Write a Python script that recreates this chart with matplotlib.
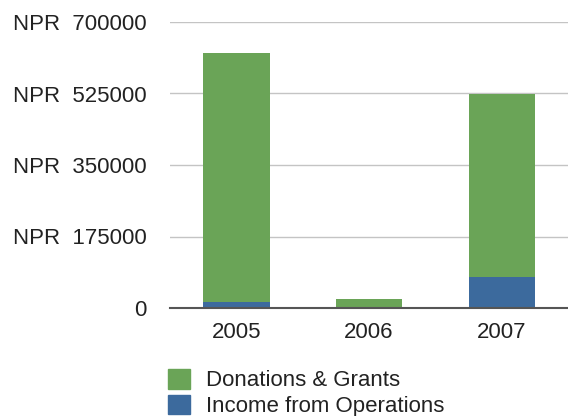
import matplotlib
matplotlib.use("Agg")
import matplotlib.pyplot as plt
import matplotlib.patches as mpatches

years = ["2005", "2006", "2007"]
income_ops = [15000, 2000, 76000]
donations = [608000, 20000, 448000]
yticks = [0, 175000, 350000, 525000, 700000]

green = "#6aa457"
blue = "#3c6a9d"
text_color = "#222222"

plt.rcParams["font.family"] = ["Liberation Sans", "DejaVu Sans"]

fig = plt.figure(figsize=(5.68, 4.16), dpi=100)
ax = fig.add_axes([170 / 568, 1 - 308 / 416, 1 - 170 / 568, (308 - 22) / 416])

x = range(len(years))
ax.bar(x, income_ops, width=0.5, color=blue, zorder=3)
ax.bar(x, donations, width=0.5, bottom=income_ops, color=green, zorder=3)

ax.set_xlim(-0.5, 2.5)
ax.set_ylim(0, 700000)
ax.set_yticks(yticks)
ax.set_yticklabels(["0"] + ["NPR  %d" % v for v in yticks[1:]])
ax.set_xticks(list(x))
ax.set_xticklabels(years)
ax.tick_params(axis="y", length=0, pad=17, labelsize=16, labelcolor=text_color)
ax.tick_params(axis="x", length=0, pad=10, labelsize=16, labelcolor=text_color)

ax.grid(axis="y", color="#c4c4c4", linewidth=1, zorder=0)
for s in ["top", "right", "left"]:
    ax.spines[s].set_visible(False)
ax.spines["bottom"].set_color("#555555")
ax.spines["bottom"].set_linewidth(1.5)
ax.spines["bottom"].set_zorder(4)

handles = [
    mpatches.Patch(color=green, label="Donations & Grants"),
    mpatches.Patch(color=blue, label="Income from Operations"),
]
fig.legend(
    handles=handles,
    loc="lower left",
    bbox_to_anchor=(159 / 568, -10 / 416),
    frameon=False,
    fontsize=16,
    handlelength=1.0,
    handleheight=1.0,
    handletextpad=0.7,
    labelspacing=0.15,
    labelcolor=text_color,
    borderaxespad=0,
)

fig.savefig("out.png", dpi=100)
